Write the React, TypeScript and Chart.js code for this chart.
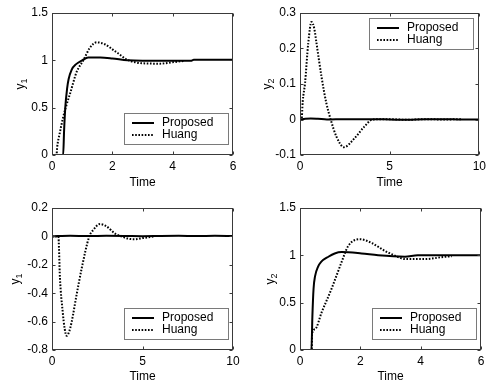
import React, { useEffect, useRef } from "react";
import { Chart, registerables } from "chart.js";

Chart.register(...registerables);

const FONT = '"Liberation Sans", Arial, Helvetica, sans-serif';

// ---------- Data ----------
// Top-left: y1, setpoint change
const tlProposedT = [0, 0.37, 0.4, 0.44, 0.5, 0.55, 0.65, 0.8, 1.0, 1.2, 1.6, 2.0, 2.5, 3.0, 4.6, 4.7, 6];
const tlProposedV = [0, 0, 0.25, 0.5, 0.7, 0.8, 0.9, 0.96, 1.0, 1.03, 1.03, 1.02, 1.0, 0.995, 0.995, 1.005, 1.005];
const tlHuangT = [0, 0.15, 0.17, 0.25, 0.37, 0.5, 0.6, 0.82, 1.04, 1.25, 1.48, 1.75, 2.03, 2.25, 2.47, 2.75, 3.03, 3.58, 4.0, 4.4];
const tlHuangV = [0, 0, 0.08, 0.22, 0.4, 0.55, 0.65, 0.88, 1.0, 1.13, 1.19, 1.17, 1.11, 1.06, 1.01, 0.98, 0.968, 0.965, 0.98, 0.995];

// Top-right: y2 (interaction)
const trProposedT = [0, 0.3, 0.6, 1.0, 1.5, 2.5, 4, 5, 6, 7, 8, 9, 10];
const trProposedV = [0, 0.002, 0.003, 0.002, 0, 0.001, 0.001, 0, -0.001, 0.001, 0.001, 0, 0];
const trHuangT = [0, 0.09, 0.15, 0.28, 0.46, 0.64, 0.8, 0.92, 1.2, 1.47, 1.71, 2.03, 2.45, 3.04, 3.59, 4.05, 5, 6, 7, 8, 9];
const trHuangV = [0, 0, 0.05, 0.102, 0.215, 0.275, 0.255, 0.215, 0.12, 0.046, 0.0, -0.048, -0.078, -0.053, -0.02, 0, 0.001, -0.001, 0.001, 0, 0.001];

// Bottom-left: y1 (interaction)
const blProposedT = [0, 1, 2, 3, 4, 5, 6, 7, 8, 9, 10];
const blProposedV = [0, 0.005, 0.002, 0.004, 0.003, 0.001, 0.003, 0.004, 0.002, 0.004, 0.003];
const blHuangT = [0, 0.35, 0.44, 0.59, 0.7, 0.81, 0.95, 1.09, 1.36, 1.64, 2.06, 2.28, 2.65, 3.02, 3.48, 3.94, 4.3, 4.6, 5.0, 5.6];
const blHuangV = [0, 0, -0.295, -0.53, -0.65, -0.7, -0.67, -0.6, -0.41, -0.225, 0.0, 0.045, 0.087, 0.07, 0.02, -0.005, -0.018, -0.02, -0.012, 0];

// Bottom-right: y2, setpoint change
const brProposedT = [0, 0.38, 0.41, 0.45, 0.5, 0.6, 0.7, 0.94, 1.15, 1.38, 2.04, 2.59, 3.48, 3.9, 6];
const brProposedV = [0, 0, 0.35, 0.65, 0.78, 0.88, 0.93, 0.985, 1.02, 1.035, 1.02, 1.0, 0.985, 1.0, 1.0];
const brHuangT = [0, 0.39, 0.4, 0.5, 0.72, 1.05, 1.38, 1.6, 1.99, 2.38, 2.82, 3.15, 3.48, 4.14, 4.8, 5.03];
const brHuangV = [0, 0, 0.17, 0.22, 0.4, 0.65, 0.93, 1.1, 1.17, 1.13, 1.046, 0.997, 0.96, 0.96, 0.985, 0.99];

// Tick labels
const xTicks6 = [0, 2, 4, 6];
const xTicks10 = [0, 5, 10];
const yTicksStep = [0, 0.5, 1, 1.5];
const yTicksY2 = [-0.1, 0, 0.1, 0.2, 0.3];
const yTicksY1 = [-0.8, -0.6, -0.4, -0.2, 0, 0.2];

const seriesNames = ["Proposed", "Huang"];
const xTitle = "Time";

const pts = (t: number[], v: number[]) => t.map((x, i) => ({ x, y: v[i] }));

type PanelDef = {
  px: number;
  py: number;
  w: number;
  h: number;
  yAxisW: number;
  padRight: number;
  xAxisH: number;
  xTicks: number[];
  yTicks: number[];
  ySub: string;
  yLabelX: number;
  legend: "se" | "ne";
  proposed: { x: number; y: number }[];
  huang: { x: number; y: number }[];
};

const panels: PanelDef[] = [
  {
    px: 0, py: 0, w: 245, h: 195, yAxisW: 52, padRight: 12, xAxisH: 40,
    xTicks: xTicks6, yTicks: yTicksStep, ySub: "1", yLabelX: 20, legend: "se",
    proposed: pts(tlProposedT, tlProposedV), huang: pts(tlHuangT, tlHuangV),
  },
  {
    px: 245, py: 0, w: 245, h: 195, yAxisW: 55, padRight: 9, xAxisH: 40,
    xTicks: xTicks10, yTicks: yTicksY2, ySub: "2", yLabelX: 22, legend: "ne",
    proposed: pts(trProposedT, trProposedV), huang: pts(trHuangT, trHuangV),
  },
  {
    px: 0, py: 195, w: 245, h: 194, yAxisW: 52, padRight: 12, xAxisH: 39,
    xTicks: xTicks10, yTicks: yTicksY1, ySub: "1", yLabelX: 15, legend: "se",
    proposed: pts(blProposedT, blProposedV), huang: pts(blHuangT, blHuangV),
  },
  {
    px: 245, py: 195, w: 245, h: 194, yAxisW: 55, padRight: 9, xAxisH: 39,
    xTicks: xTicks6, yTicks: yTicksStep, ySub: "2", yLabelX: 25, legend: "se",
    proposed: pts(brProposedT, brProposedV), huang: pts(brHuangT, brHuangV),
  },
];

const AXIS_COLOR = "#3a3a3a";
const DOT_DASH = [1.6, 1.6];

function makePlugin(p: PanelDef) {
  return {
    id: "matlabDecor",
    afterDatasetsDraw(chart: any) {
      const ctx: CanvasRenderingContext2D = chart.ctx;
      const a = chart.chartArea;
      const xs = chart.scales.x;
      const ys = chart.scales.y;
      const L = Math.round(a.left) + 0.5;
      const R = Math.round(a.right) - 0.5;
      const T = Math.round(a.top) + 0.5;
      const B = Math.round(a.bottom) - 0.5;
      ctx.save();
      // box
      ctx.strokeStyle = AXIS_COLOR;
      ctx.lineWidth = 1;
      ctx.setLineDash([]);
      ctx.strokeRect(L, T, R - L, B - T);
      // inward ticks
      const tl = 3;
      ctx.beginPath();
      for (const v of p.xTicks) {
        const x = Math.round(xs.getPixelForValue(v)) + 0.5;
        ctx.moveTo(x, B);
        ctx.lineTo(x, B - tl);
        ctx.moveTo(x, T);
        ctx.lineTo(x, T + tl);
      }
      for (const v of p.yTicks) {
        const y = Math.round(ys.getPixelForValue(v)) + 0.5;
        ctx.moveTo(L, y);
        ctx.lineTo(L + tl, y);
        ctx.moveTo(R, y);
        ctx.lineTo(R - tl, y);
      }
      ctx.stroke();

      // y label with subscript
      const cy = (a.top + a.bottom) / 2;
      ctx.translate(p.yLabelX, cy);
      ctx.rotate(-Math.PI / 2);
      ctx.fillStyle = "#000";
      ctx.textBaseline = "alphabetic";
      ctx.font = `12px ${FONT}`;
      const wY = ctx.measureText("y").width;
      ctx.font = `9px ${FONT}`;
      const wS = ctx.measureText(p.ySub).width;
      const total = wY + wS;
      ctx.font = `12px ${FONT}`;
      ctx.textAlign = "left";
      ctx.fillText("y", -total / 2, 4);
      ctx.font = `9px ${FONT}`;
      ctx.fillText(p.ySub, -total / 2 + wY, 7);
      ctx.setTransform(1, 0, 0, 1, 0, 0);

      // legend
      const bw = 104;
      const bh = 31;
      let bx: number, by: number;
      if (p.legend === "se") {
        bx = Math.round(a.right) - 5 - bw;
        by = Math.round(a.bottom) - 11 - bh;
      } else {
        bx = Math.round(a.right) - 6 - bw;
        by = Math.round(a.top) + 5;
      }
      ctx.fillStyle = "#fff";
      ctx.fillRect(bx, by, bw, bh);
      ctx.strokeStyle = "#7a7a7a";
      ctx.lineWidth = 1;
      ctx.strokeRect(bx + 0.5, by + 0.5, bw, bh);
      const rows = [by + 10, by + 22];
      ctx.strokeStyle = "#000";
      ctx.lineWidth = 2;
      ctx.font = `12px ${FONT}`;
      ctx.textBaseline = "middle";
      ctx.textAlign = "left";
      ctx.fillStyle = "#000";
      seriesNames.forEach((name, i) => {
        ctx.setLineDash(i === 0 ? [] : DOT_DASH);
        ctx.beginPath();
        ctx.moveTo(bx + 8, rows[i]);
        ctx.lineTo(bx + 30, rows[i]);
        ctx.stroke();
        ctx.fillText(name, bx + 38, rows[i]);
      });
      ctx.restore();
    },
  };
}

function Panel({ p }: { p: PanelDef }) {
  const ref = useRef<HTMLCanvasElement | null>(null);
  useEffect(() => {
    if (!ref.current) return;
    const xMin = p.xTicks[0];
    const xMax = p.xTicks[p.xTicks.length - 1];
    const yMin = p.yTicks[0];
    const yMax = p.yTicks[p.yTicks.length - 1];
    const chart = new Chart(ref.current, {
      type: "line",
      data: {
        datasets: [
          {
            label: seriesNames[0],
            data: p.proposed,
            borderColor: "#000",
            borderWidth: 2,
            pointRadius: 0,
            cubicInterpolationMode: "monotone",
            fill: false,
          },
          {
            label: seriesNames[1],
            data: p.huang,
            borderColor: "#000",
            borderWidth: 2,
            borderDash: DOT_DASH,
            pointRadius: 0,
            cubicInterpolationMode: "monotone",
            fill: false,
          },
        ],
      },
      options: {
        responsive: false,
        animation: false,
        events: [],
        layout: { padding: { left: 0, top: 13, right: p.padRight, bottom: 0 } },
        plugins: { legend: { display: false }, tooltip: { enabled: false }, title: { display: false } },
        scales: {
          x: {
            type: "linear",
            min: xMin,
            max: xMax,
            afterBuildTicks: (s: any) => {
              s.ticks = p.xTicks.map((v) => ({ value: v }));
            },
            afterFit: (s: any) => {
              s.height = p.xAxisH;
            },
            grid: { display: false, drawTicks: false },
            border: { display: false },
            ticks: {
              autoSkip: false,
              maxRotation: 0,
              padding: 4,
              color: "#000",
              font: { family: FONT, size: 12 },
              callback: (v: any) => String(v),
            },
            title: {
              display: true,
              text: xTitle,
              color: "#000",
              font: { family: FONT, size: 12 },
              padding: { top: 0, bottom: 5 },
            },
          },
          y: {
            type: "linear",
            min: yMin,
            max: yMax,
            afterBuildTicks: (s: any) => {
              s.ticks = p.yTicks.map((v) => ({ value: v }));
            },
            afterFit: (s: any) => {
              s.width = p.yAxisW;
            },
            grid: { display: false, drawTicks: false },
            border: { display: false },
            ticks: {
              autoSkip: false,
              padding: 4,
              color: "#000",
              font: { family: FONT, size: 12 },
              callback: (v: any) => String(v),
            },
          },
        },
      } as any,
      plugins: [makePlugin(p)],
    });
    return () => chart.destroy();
  }, [p]);
  return (
    <canvas
      ref={ref}
      width={p.w}
      height={p.h}
      style={{ position: "absolute", left: p.px, top: p.py, width: p.w, height: p.h, display: "block" }}
    />
  );
}

export default function App() {
  useEffect(() => {
    document.body.style.margin = "0";
  }, []);
  return (
    <div style={{ position: "relative", width: 490, height: 389, background: "#fff", overflow: "hidden" }}>
      {panels.map((p, i) => (
        <Panel key={i} p={p} />
      ))}
    </div>
  );
}
